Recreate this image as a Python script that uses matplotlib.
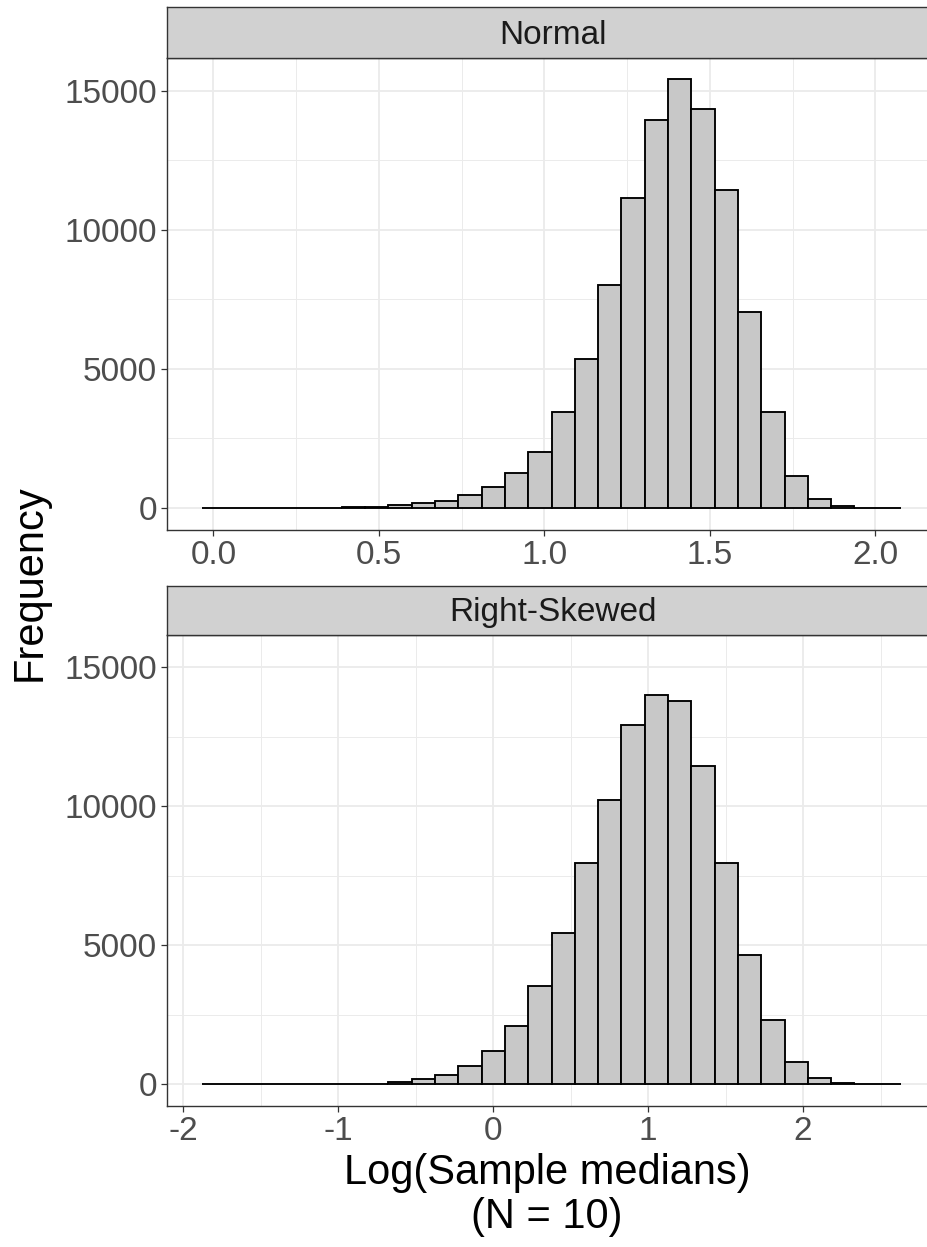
import numpy as np
import matplotlib
matplotlib.use("Agg")
import matplotlib.pyplot as plt
from matplotlib.ticker import MultipleLocator

plt.rcParams['font.family'] = ['Liberation Sans', 'DejaVu Sans']

# ---- data ----
panels = ["Normal", "Right-Skewed"]
normal_start = -0.0345
normal_binwidth = 0.0704
normal_counts = [2, 2, 3, 4, 6, 10, 22, 48, 95, 165, 245, 460, 745, 1260, 2025,
                 3456, 5370, 8025, 11150, 13930, 15416, 14340, 11434, 7032, 3456,
                 1160, 335, 72, 10, 2]
skew_start = -1.880
skew_binwidth = 0.1504
skew_counts = [1, 1, 1, 2, 3, 5, 10, 25, 95, 190, 345, 645, 1195, 2085, 3534,
               5450, 7955, 10230, 12914, 14017, 13789, 11465, 7955, 4636, 2312,
               803, 216, 48, 10, 2]
normal_xticks = [0.0, 0.5, 1.0, 1.5, 2.0]
normal_xticklabels = ["0.0", "0.5", "1.0", "1.5", "2.0"]
skew_xticks = [-2, -1, 0, 1, 2]
skew_xticklabels = ["-2", "-1", "0", "1", "2"]
yticks = [0, 5000, 10000, 15000]
yticklabels = ["0", "5000", "10000", "15000"]

W, H = 927, 1247
fig = plt.figure(figsize=(W / 100, H / 100), dpi=100)

def fr(x0, y0, x1, y1):
    # pixel box (top-left origin) -> figure fraction rect
    return [x0 / W, 1 - y1 / H, (x1 - x0) / W, (y1 - y0) / H]

grey20 = '#333333'
ymax = max(max(normal_counts), max(skew_counts))

specs = [
    (panels[0], normal_start, normal_binwidth, normal_counts, normal_xticks, normal_xticklabels,
     0.5, (7, 57.5), (57.5, 529.5)),
    (panels[1], skew_start, skew_binwidth, skew_counts, skew_xticks, skew_xticklabels,
     1.0, (585.5, 634.5), (634.5, 1105.7)),
]

for title, start, bw, counts, xt, xtl, step, strip_y, panel_y in specs:
    n = len(counts)
    edges = start + bw * np.arange(n + 1)
    ax = fig.add_axes(fr(167, panel_y[0], 936, panel_y[1]))
    ax.set_axisbelow(True)
    ax.bar(edges[:-1], counts, width=bw, align='edge', color='#C8C8C8',
           edgecolor='black', linewidth=1.35, zorder=3)
    lo, hi = edges[0], edges[-1]
    pad = 0.05 * (hi - lo)
    ax.set_xlim(lo - pad, hi + pad)
    ax.set_ylim(-0.05 * ymax, 1.05 * ymax)
    ax.set_xticks(xt)
    ax.set_xticklabels(xtl)
    ax.set_yticks(yticks)
    ax.set_yticklabels(yticklabels)
    ax.xaxis.set_minor_locator(MultipleLocator(step / 2))
    ax.yaxis.set_minor_locator(MultipleLocator(2500))
    ax.grid(which='major', color='#EBEBEB', linewidth=1.3)
    ax.grid(which='minor', color='#EBEBEB', linewidth=0.7)
    ax.tick_params(which='major', length=4.2, width=0.9, color=grey20,
                   labelsize=24, labelcolor='#4D4D4D', pad=3)
    ax.tick_params(which='minor', length=0)
    for s in ax.spines.values():
        s.set_color(grey20)
        s.set_linewidth(1.0)

    sax = fig.add_axes(fr(167, strip_y[0], 936, strip_y[1]))
    sax.set_facecolor('#D1D1D1')
    sax.set_xticks([])
    sax.set_yticks([])
    for s in sax.spines.values():
        s.set_color(grey20)
        s.set_linewidth(1.0)
    fig.text(553 / W, 1 - ((strip_y[0] + strip_y[1]) / 2 + 3) / H, title,
             ha='center', va='center', fontsize=24, color='#1A1A1A')

fig.text(30 / W, 1 - 583 / H, "Frequency", rotation=90, ha='center', va='center',
         fontsize=30, color='black')
fig.text(547 / W, 1 - 1195 / H, "Log(Sample medians)\n(N = 10)", ha='center',
         va='center', fontsize=30, color='black', linespacing=1.1)

fig.savefig("out.png", dpi=100)
